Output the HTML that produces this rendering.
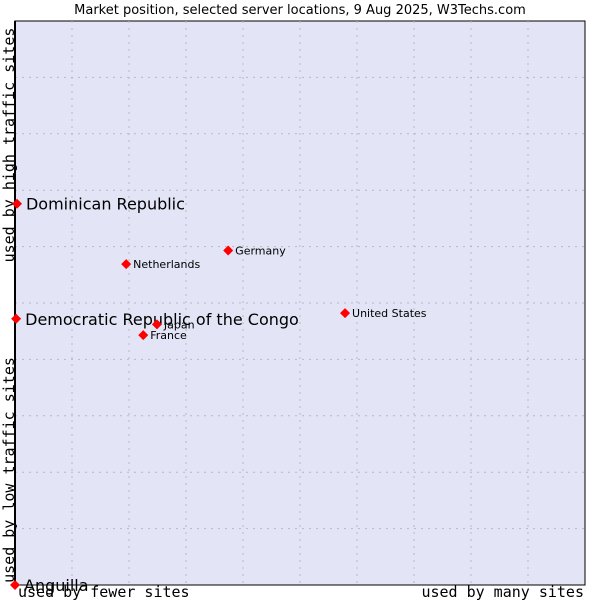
<!DOCTYPE html>
<html><head><meta charset="utf-8"><style>
body{margin:0;background:#fff;}
svg{display:block;font-family:"DejaVu Sans","Liberation Sans",sans-serif;}
</style></head><body>
<svg id="chart" width="600" height="600" viewBox="0 0 600 600">
<text x="300" y="14" text-anchor="middle" font-size="13" fill="#000">Market position, selected server locations, 9 Aug 2025, W3Techs.com</text>
<rect x="15" y="21" width="570" height="564" fill="#e3e5f7" stroke="#000" stroke-width="1"/>
<g id="grid"></g>
<line x1="15" y1="21" x2="15" y2="585" stroke="#000" stroke-width="2"/>
<line x1="15" y1="585" x2="585" y2="585" stroke="#000" stroke-width="1"/>
<text transform="translate(14,145) rotate(-90)" text-anchor="middle" font-family="DejaVu Sans Mono, Liberation Mono, monospace" font-size="15">used by high traffic sites</text>
<text transform="translate(14,470) rotate(-90)" text-anchor="middle" font-family="DejaVu Sans Mono, Liberation Mono, monospace" font-size="15">used by low traffic sites</text>
<text x="18" y="597" font-family="DejaVu Sans Mono, Liberation Mono, monospace" font-size="15">used by fewer sites</text>
<text x="584" y="597" text-anchor="end" font-family="DejaVu Sans Mono, Liberation Mono, monospace" font-size="15">used by many sites</text>
<g id="points"></g>
</svg>
<script>
const names = ["Dominican Republic","Democratic Republic of the Congo","Anguilla","Netherlands","Germany","United States","Japan","France"];
const xValues = [0.35,0.2,0,19.5,37.4,57.9,24.9,22.5];
const yValues = [67.6,47.2,0,56.9,59.3,48.2,46.2,44.3];
const highlighted = [true,true,true,false,false,false,false,false];
const NS="http://www.w3.org/2000/svg";
const L=15,R=585,T=21,B=585;
const xs=v=>L+(R-L)*v/100, ys=v=>B-(B-T)*v/100;
const grid=document.getElementById('grid');
for(let i=1;i<10;i++){
  const g=document.createElementNS(NS,'line');
  g.setAttribute('x1',xs(i*10));g.setAttribute('x2',xs(i*10));g.setAttribute('y1',T);g.setAttribute('y2',B);
  g.setAttribute('stroke','#b8b8c0');g.setAttribute('stroke-dasharray','2,5');
  
  
  grid.appendChild(g);
  const h=document.createElementNS(NS,'line');
  h.setAttribute('x1',L);h.setAttribute('x2',R);h.setAttribute('y1',ys(i*10));h.setAttribute('y2',ys(i*10));
  h.setAttribute('stroke','#b8b8c0');h.setAttribute('stroke-dasharray','2,5');
  
  
  grid.appendChild(h);
}
const pts=document.getElementById('points');
names.forEach((n,i)=>{
  const x=xs(xValues[i]),y=ys(yValues[i]);
  const d=document.createElementNS(NS,'path');
  d.setAttribute('d',`M${x} ${y-5}L${x+5} ${y}L${x} ${y+5}L${x-5} ${y}Z`);
  d.setAttribute('fill','#f00');
  
  
  pts.appendChild(d);
  const t=document.createElementNS(NS,'text');
  const big=highlighted[i];
  t.setAttribute('x',x+(big?9:7));t.setAttribute('y',y+(big?6:4));
  t.setAttribute('font-size',big?16:11);
  t.textContent=n;
  
  
  pts.appendChild(t);
});
</script>
</body></html>
